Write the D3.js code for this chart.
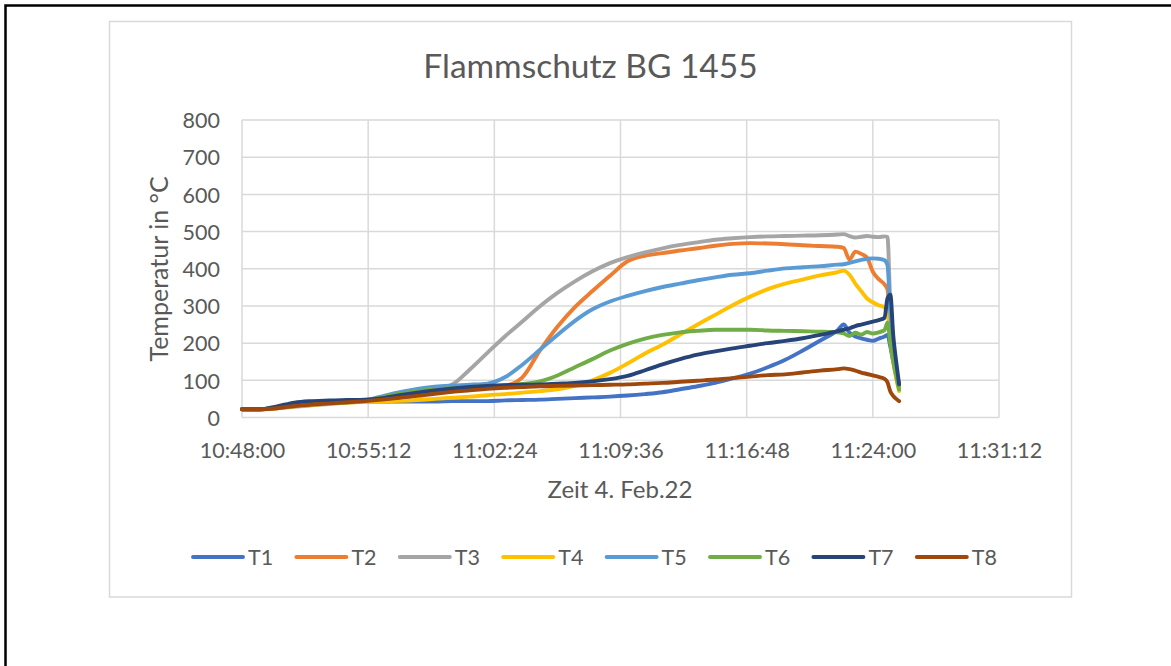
<!DOCTYPE html>
<html>
<head>
<meta charset="utf-8">
<script src="https://cdn.jsdelivr.net/npm/d3@7"></script>
<style>
  html, body { margin: 0; padding: 0; background: #fff; }
  svg { display: block; font-family: Lato, "Open Sans", sans-serif; }
</style>
</head>
<body>
<svg id="chart" width="1171" height="666"></svg>
<script>
// Messzeitpunkte (4. Feb. 2022)
const times = [
  "10:48:00","10:49:00","10:50:00","10:51:00","10:52:00","10:53:00","10:54:00","10:55:00",
  "10:56:00","10:57:00","10:58:00","10:59:00","11:00:00","11:01:00","11:02:00","11:03:00",
  "11:04:00","11:05:00","11:06:00","11:07:00","11:08:00","11:09:00","11:10:00","11:11:00",
  "11:12:00","11:13:00","11:14:00","11:15:00","11:16:00","11:17:00","11:18:00","11:19:00",
  "11:20:00","11:21:00","11:22:00","11:22:20","11:22:40","11:23:00","11:23:20","11:23:40",
  "11:24:00","11:24:20","11:24:40","11:24:50","11:25:00","11:25:10","11:25:20","11:25:30"
];

// Temperaturen der Messstellen T1..T8 in °C
const T1 = [22,22,28,36,40,42,43,43,43,43,43,43,44,44,44,46,47,48,50,52,54,56,59,63,
            68,76,84,93,105,118,135,155,180,207,235,250,228,218,213,209,
            206,212,218,222,190,150,115,85];
const T2 = [22,22,26,31,35,38,41,44,50,57,64,70,75,79,83,86,108,180,244,297,340,381,420,435,
            442,449,455,462,467,469,468,466,463,461,459,456,425,446,440,430,
            392,372,358,345,260,180,125,82];
const T3 = [22,22,25,29,33,36,40,44,52,62,70,78,89,129,174,218,258,299,335,366,393,415,431,444,
            455,464,471,478,482,485,487,488,489,490,492,493,488,484,486,488,
            486,485,487,486,300,190,130,85];
const T4 = [22,22,25,30,34,37,40,42,44,45,47,50,53,56,60,63,67,71,76,85,100,120,145,172,
            196,223,250,276,302,325,345,360,371,382,391,395,384,360,340,320,
            310,302,296,285,210,150,105,71];
const T5 = [22,22,27,33,37,40,42,46,57,68,77,83,86,88,91,108,142,182,222,260,291,312,327,340,
            351,360,369,377,384,388,395,401,404,407,411,412,416,420,424,427,
            428,427,423,410,280,190,130,88];
const T6 = [22,22,26,32,36,39,41,45,55,64,71,76,79,82,84,86,90,97,113,135,157,180,198,212,
            222,229,233,236,236,236,234,233,232,231,229,226,219,228,223,230,
            226,229,235,255,200,150,110,75];
const T7 = [22,22,30,40,44,46,47,48,52,60,67,73,78,82,85,87,88,89,91,93,97,103,112,127,
            143,157,169,178,186,193,200,206,213,222,232,236,240,246,250,254,
            258,262,268,320,330,220,150,89];
const T8 = [22,22,25,31,35,38,41,44,48,53,58,64,69,73,77,80,82,84,85,86,87,88,89,91,
            93,96,99,102,106,110,114,116,121,126,130,132,130,126,121,117,
            113,109,104,95,70,58,50,44];

const seriesNames = ["T1","T2","T3","T4","T5","T6","T7","T8"];
const seriesValues = [T1, T2, T3, T4, T5, T6, T7, T8];
const seriesColors = ["#4472C4","#ED7D31","#A5A5A5","#FFC000","#5B9BD5","#70AD47","#264478","#9E480E"];

// Achsenbeschriftungen
const xTickLabels = ["10:48:00","10:55:12","11:02:24","11:09:36","11:16:48","11:24:00","11:31:12"];
const yTickValues = [0,100,200,300,400,500,600,700,800];

const chartTitle = "Flammschutz BG 1455";
const xTitle = "Zeit 4. Feb.22";
const yTitle = "Temperatur in °C";

const parseTime = d3.timeParse("%Y-%m-%d %H:%M:%S");
const toDate = s => parseTime("2022-02-04 " + s);

const svg = d3.select("#chart");
const textColor = "#595959";
const gridColor = "#D9D9D9";

// Seitenrahmen
svg.append("rect").attr("width", 1171).attr("height", 666).attr("fill", "#fff");
svg.append("path")
  .attr("d", "M5.5,666 V5.5 H1171")
  .attr("fill", "none").attr("stroke", "#000").attr("stroke-width", 2.5);

// Diagrammbereich
svg.append("rect")
  .attr("x", 109.5).attr("y", 21.5).attr("width", 962).attr("height", 575.5)
  .attr("fill", "#fff").attr("stroke", gridColor).attr("stroke-width", 1.5);

const plot = { left: 242, right: 999, top: 120, bottom: 417.5 };

const x = d3.scaleTime()
  .domain([toDate(xTickLabels[0]), toDate(xTickLabels[xTickLabels.length - 1])])
  .range([plot.left, plot.right]);
const y = d3.scaleLinear().domain([0, 800]).range([plot.bottom, plot.top]);

// Gitterlinien
const grid = svg.append("g");
grid.selectAll("line.h").data(yTickValues).join("line")
  .attr("x1", plot.left).attr("x2", plot.right)
  .attr("y1", d => y(d)).attr("y2", d => y(d))
  .attr("stroke", gridColor).attr("stroke-width", 1.5);
grid.selectAll("line.v").data(xTickLabels.map(toDate)).join("line")
  .attr("x1", d => x(d)).attr("x2", d => x(d))
  .attr("y1", plot.top).attr("y2", plot.bottom)
  .attr("stroke", gridColor).attr("stroke-width", 1.5);

// Y-Achse
const yAxis = svg.append("g")
  .attr("transform", `translate(${plot.left - 22},0)`)
  .call(d3.axisLeft(y).tickValues(yTickValues).tickSize(0).tickPadding(0));
yAxis.select(".domain").remove();
yAxis.selectAll("text")
  .attr("font-family", "Lato, sans-serif").attr("font-size", 21.5)
  .attr("fill", textColor).attr("dy", "0.36em");

// X-Achse
const xAxis = svg.append("g")
  .attr("transform", `translate(0,${plot.bottom})`)
  .call(d3.axisBottom(x).tickValues(xTickLabels.map(toDate))
        .tickFormat(d3.timeFormat("%H:%M:%S")).tickSize(0).tickPadding(0));
xAxis.select(".domain").remove();
xAxis.selectAll("text")
  .attr("font-family", "Lato, sans-serif").attr("font-size", 21.5)
  .attr("fill", textColor).attr("y", 0).attr("dy", 40);

// Messkurven
const line = d3.line()
  .x((d, i) => x(toDate(times[i])))
  .y(d => y(d))
  .curve(d3.curveMonotoneX);

svg.append("g").selectAll("path").data(seriesValues).join("path")
  .attr("d", d => line(d))
  .attr("fill", "none")
  .attr("stroke", (d, i) => seriesColors[i])
  .attr("stroke-width", 3.9)
  .attr("stroke-linejoin", "round")
  .attr("stroke-linecap", "round");

// Titel
svg.append("text")
  .attr("x", 590.5).attr("y", 78)
  .attr("text-anchor", "middle")
  .attr("font-size", 33.5).attr("fill", textColor)
  .text(chartTitle);

// Achsentitel
svg.append("text")
  .attr("x", 620).attr("y", 498)
  .attr("text-anchor", "middle")
  .attr("font-size", 24).attr("fill", textColor)
  .text(xTitle);

svg.append("text")
  .attr("transform", "translate(168,269) rotate(-90)")
  .attr("text-anchor", "middle")
  .attr("font-size", 25).attr("fill", textColor)
  .text(yTitle);

// Legende
const legend = svg.append("g").attr("transform", "translate(193,557)");
const item = legend.selectAll("g").data(seriesNames).join("g")
  .attr("transform", (d, i) => `translate(${i * 103.4},0)`);
item.append("line")
  .attr("x1", 0).attr("x2", 50).attr("y1", 0).attr("y2", 0)
  .attr("stroke", (d, i) => seriesColors[i])
  .attr("stroke-width", 3.9).attr("stroke-linecap", "round");
item.append("text")
  .attr("x", 55).attr("y", 0).attr("dy", "0.36em")
  .attr("font-size", 21.5).attr("fill", textColor)
  .text(d => d);
</script>
</body>
</html>
